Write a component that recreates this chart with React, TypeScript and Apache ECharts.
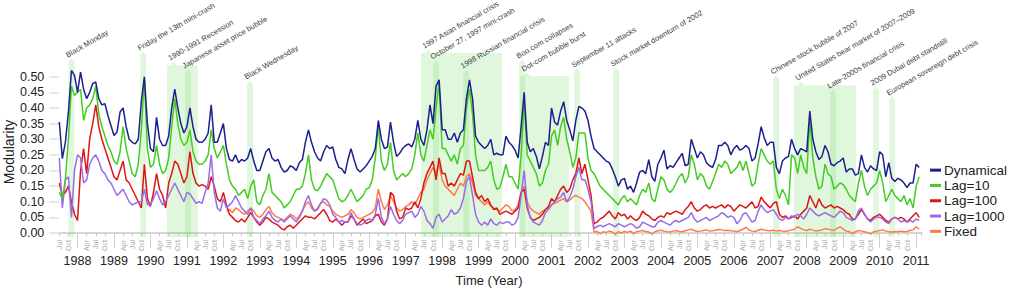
import React, { useEffect, useRef } from 'react';
import * as echarts from 'echarts';

// Monthly samples, first value = July 1987
const START = 1987.5;

const dynamical = [
  0.355, 0.238, 0.29, 0.387, 0.52, 0.504,
  0.45, 0.515, 0.46, 0.43, 0.45, 0.478, 0.483, 0.43, 0.41, 0.414, 0.376, 0.344,
  0.312, 0.323, 0.387, 0.40, 0.34, 0.30, 0.29, 0.285, 0.30, 0.42, 0.50, 0.35,
  0.27, 0.26, 0.37, 0.30, 0.28, 0.28, 0.31, 0.40, 0.46, 0.40, 0.35, 0.32,
  0.34, 0.40, 0.34, 0.30, 0.29, 0.29, 0.30, 0.32, 0.41, 0.29, 0.29, 0.32,
  0.35, 0.27, 0.235, 0.23, 0.25, 0.225, 0.235, 0.23, 0.24, 0.27, 0.23, 0.20,
  0.20, 0.23, 0.26, 0.27, 0.24, 0.23, 0.235, 0.21, 0.195, 0.20, 0.215, 0.21,
  0.20, 0.225, 0.235, 0.29, 0.33, 0.29, 0.26, 0.24, 0.23, 0.26, 0.28, 0.27,
  0.275, 0.235, 0.21, 0.205, 0.19, 0.235, 0.27, 0.235, 0.205, 0.195, 0.205, 0.215,
  0.23, 0.245, 0.27, 0.36, 0.30, 0.27, 0.275, 0.355, 0.29, 0.245, 0.255, 0.27,
  0.28, 0.285, 0.275, 0.30, 0.36, 0.30, 0.28, 0.33, 0.41, 0.35, 0.47, 0.49,
  0.33, 0.33, 0.30, 0.30, 0.32, 0.29, 0.32, 0.33, 0.43, 0.49, 0.43, 0.31,
  0.29, 0.28, 0.27, 0.28, 0.30, 0.25, 0.255, 0.25, 0.25, 0.31, 0.29, 0.28,
  0.265, 0.24, 0.34, 0.45, 0.29, 0.26, 0.27, 0.245, 0.205, 0.245, 0.29, 0.28,
  0.40, 0.355, 0.345, 0.39, 0.42, 0.36, 0.33, 0.295, 0.36, 0.405, 0.40, 0.39,
  0.36, 0.31, 0.27, 0.26, 0.25, 0.24, 0.23, 0.225, 0.205, 0.18, 0.15, 0.17,
  0.175, 0.14, 0.15, 0.13, 0.16, 0.195, 0.20, 0.19, 0.235, 0.18, 0.165, 0.22,
  0.24, 0.265, 0.205, 0.215, 0.21, 0.225, 0.24, 0.255, 0.215, 0.22, 0.30, 0.27,
  0.24, 0.26, 0.25, 0.225, 0.215, 0.21, 0.235, 0.28, 0.28, 0.29, 0.28, 0.25,
  0.27, 0.28, 0.265, 0.27, 0.28, 0.27, 0.23, 0.24, 0.285, 0.34, 0.305, 0.28,
  0.29, 0.29, 0.21, 0.19, 0.23, 0.24, 0.245, 0.30, 0.27, 0.25, 0.27, 0.265,
  0.26, 0.39, 0.30, 0.26, 0.235, 0.245, 0.28, 0.26, 0.22, 0.215, 0.225, 0.23,
  0.24, 0.195, 0.205, 0.205, 0.185, 0.19, 0.25, 0.21, 0.195, 0.215, 0.205, 0.20,
  0.26, 0.25, 0.18, 0.225, 0.175, 0.165, 0.175, 0.17, 0.16, 0.145, 0.16, 0.16,
  0.22, 0.21,
];

const lag10 = [
  0.13, 0.11, 0.17, 0.30, 0.47, 0.44,
  0.45, 0.46, 0.36, 0.40, 0.41, 0.43, 0.47, 0.38, 0.34, 0.31, 0.28, 0.26,
  0.23, 0.22, 0.26, 0.34, 0.27, 0.23, 0.19, 0.18, 0.22, 0.33, 0.49, 0.27,
  0.21, 0.22, 0.28, 0.22, 0.19, 0.20, 0.24, 0.34, 0.43, 0.35, 0.30, 0.28,
  0.29, 0.33, 0.26, 0.23, 0.22, 0.22, 0.23, 0.25, 0.33, 0.27, 0.24, 0.26,
  0.28, 0.22, 0.17, 0.15, 0.14, 0.12, 0.13, 0.14, 0.11, 0.15, 0.17, 0.10,
  0.09, 0.12, 0.14, 0.19, 0.13, 0.12, 0.11, 0.10, 0.08, 0.09, 0.10, 0.12,
  0.14, 0.14, 0.15, 0.19, 0.25, 0.17, 0.14, 0.135, 0.15, 0.17, 0.19, 0.18,
  0.17, 0.14, 0.11, 0.10, 0.105, 0.12, 0.14, 0.12, 0.10, 0.11, 0.12, 0.14,
  0.145, 0.17, 0.24, 0.34, 0.23, 0.20, 0.22, 0.29, 0.20, 0.17, 0.18, 0.19,
  0.18, 0.19, 0.205, 0.25, 0.32, 0.25, 0.23, 0.28, 0.33, 0.30, 0.40, 0.48,
  0.27, 0.27, 0.25, 0.23, 0.25, 0.22, 0.27, 0.28, 0.40, 0.46, 0.38, 0.25,
  0.20, 0.20, 0.20, 0.21, 0.23, 0.17, 0.14, 0.145, 0.18, 0.22, 0.18, 0.18,
  0.16, 0.14, 0.25, 0.42, 0.25, 0.23, 0.21, 0.19, 0.15, 0.16, 0.20, 0.22,
  0.31, 0.33, 0.28, 0.34, 0.37, 0.30, 0.26, 0.21, 0.24, 0.32, 0.32, 0.32,
  0.24, 0.20, 0.19, 0.17, 0.15, 0.14, 0.13, 0.12, 0.11, 0.10, 0.09, 0.11,
  0.12, 0.10, 0.11, 0.10, 0.09, 0.12, 0.14, 0.13, 0.16, 0.11, 0.10, 0.14,
  0.18, 0.17, 0.14, 0.13, 0.14, 0.16, 0.18, 0.19, 0.16, 0.18, 0.25, 0.22,
  0.17, 0.19, 0.18, 0.15, 0.14, 0.165, 0.19, 0.22, 0.21, 0.23, 0.22, 0.19,
  0.20, 0.21, 0.23, 0.20, 0.23, 0.19, 0.15, 0.16, 0.22, 0.27, 0.25, 0.23,
  0.22, 0.23, 0.14, 0.11, 0.14, 0.12, 0.09, 0.25, 0.24, 0.19, 0.25, 0.21,
  0.19, 0.36, 0.24, 0.18, 0.14, 0.15, 0.22, 0.19, 0.18, 0.14, 0.15, 0.16,
  0.155, 0.14, 0.12, 0.11, 0.10, 0.16, 0.20, 0.15, 0.12, 0.14, 0.15, 0.16,
  0.20, 0.16, 0.10, 0.12, 0.14, 0.12, 0.11, 0.10, 0.12, 0.09, 0.11, 0.08,
  0.15, 0.18,
];

const lag100 = [
  0.16, 0.12, 0.13, 0.15, 0.10, 0.06,
  0.04, 0.20, 0.27, 0.19, 0.30, 0.35, 0.41, 0.34, 0.30, 0.27, 0.24, 0.21,
  0.18, 0.17, 0.20, 0.23, 0.17, 0.16, 0.14, 0.12, 0.10, 0.08, 0.22, 0.11,
  0.085, 0.13, 0.19, 0.14, 0.12, 0.08, 0.16, 0.19, 0.23, 0.22, 0.19, 0.16,
  0.18, 0.26, 0.19, 0.16, 0.15, 0.155, 0.15, 0.14, 0.18, 0.15, 0.11, 0.10,
  0.13, 0.09, 0.06, 0.05, 0.04, 0.035, 0.045, 0.035, 0.05, 0.065, 0.05, 0.035,
  0.025, 0.035, 0.05, 0.045, 0.035, 0.03, 0.025, 0.015, 0.01, 0.02, 0.025, 0.015,
  0.025, 0.035, 0.045, 0.055, 0.05, 0.05, 0.045, 0.055, 0.065, 0.075, 0.06, 0.04,
  0.035, 0.045, 0.035, 0.025, 0.035, 0.035, 0.055, 0.045, 0.025, 0.035, 0.045, 0.03,
  0.035, 0.04, 0.055, 0.06, 0.035, 0.025, 0.045, 0.13, 0.12, 0.07, 0.045, 0.05,
  0.08, 0.075, 0.08, 0.10, 0.08, 0.11, 0.16, 0.19, 0.21, 0.23, 0.17, 0.24,
  0.19, 0.19, 0.15, 0.16, 0.15, 0.17, 0.19, 0.185, 0.23, 0.23, 0.18, 0.13,
  0.11, 0.12, 0.10, 0.11, 0.09, 0.075, 0.08, 0.06, 0.065, 0.07, 0.065, 0.06,
  0.07, 0.08, 0.13, 0.14, 0.08, 0.05, 0.04, 0.045, 0.05, 0.06, 0.075, 0.085,
  0.11, 0.10, 0.12, 0.14, 0.15, 0.13, 0.14, 0.17, 0.19, 0.24, 0.19, 0.22,
  0.17, 0.12, 0.03, 0.035, 0.045, 0.05, 0.06, 0.07, 0.055, 0.045, 0.065, 0.055,
  0.06, 0.045, 0.055, 0.045, 0.04, 0.05, 0.07, 0.06, 0.055, 0.045, 0.04, 0.05,
  0.055, 0.05, 0.065, 0.06, 0.065, 0.07, 0.065, 0.06, 0.075, 0.085, 0.10, 0.08,
  0.07, 0.075, 0.085, 0.09, 0.08, 0.085, 0.08, 0.085, 0.09, 0.08, 0.09, 0.085,
  0.07, 0.08, 0.09, 0.085, 0.08, 0.09, 0.10, 0.08, 0.085, 0.115, 0.10, 0.09,
  0.08, 0.095, 0.10, 0.06, 0.05, 0.055, 0.045, 0.05, 0.055, 0.045, 0.06, 0.07,
  0.08, 0.12, 0.10, 0.08, 0.11, 0.09, 0.08, 0.085, 0.09, 0.08, 0.085, 0.08,
  0.075, 0.065, 0.06, 0.045, 0.045, 0.06, 0.075, 0.06, 0.045, 0.04, 0.05, 0.055,
  0.06, 0.05, 0.04, 0.035, 0.045, 0.05, 0.045, 0.05, 0.045, 0.035, 0.045, 0.055,
  0.065, 0.05,
];

const lag1000 = [
  0.24, 0.08, 0.17, 0.18, 0.05, 0.20,
  0.25, 0.24, 0.16, 0.17, 0.22, 0.24, 0.25, 0.23, 0.20, 0.19, 0.17, 0.16,
  0.14, 0.12, 0.13, 0.14, 0.12, 0.10, 0.09, 0.095, 0.10, 0.10, 0.14, 0.09,
  0.09, 0.11, 0.135, 0.11, 0.09, 0.10, 0.12, 0.14, 0.16, 0.14, 0.12, 0.10,
  0.13, 0.125, 0.11, 0.095, 0.10, 0.095, 0.13, 0.16, 0.25, 0.13, 0.08, 0.07,
  0.11, 0.08, 0.09, 0.10, 0.12, 0.10, 0.08, 0.07, 0.06, 0.08, 0.05, 0.04,
  0.03, 0.045, 0.055, 0.07, 0.05, 0.04, 0.035, 0.045, 0.035, 0.045, 0.055, 0.045,
  0.035, 0.05, 0.07, 0.10, 0.12, 0.09, 0.07, 0.075, 0.095, 0.11, 0.105, 0.09,
  0.06, 0.05, 0.035, 0.04, 0.035, 0.035, 0.065, 0.045, 0.03, 0.025, 0.03, 0.04,
  0.045, 0.04, 0.06, 0.11, 0.05, 0.03, 0.045, 0.085, 0.06, 0.04, 0.03, 0.04,
  0.06, 0.065, 0.07, 0.05, 0.06, 0.085, 0.07, 0.04, 0.03, 0.015, 0.05, 0.06,
  0.035, 0.045, 0.055, 0.075, 0.06, 0.065, 0.08, 0.11, 0.165, 0.18, 0.12, 0.06,
  0.035, 0.025, 0.035, 0.025, 0.045, 0.03, 0.025, 0.035, 0.03, 0.035, 0.035, 0.025,
  0.03, 0.05, 0.12, 0.20, 0.09, 0.05, 0.035, 0.03, 0.025, 0.04, 0.065, 0.075,
  0.09, 0.10, 0.11, 0.115, 0.13, 0.10, 0.115, 0.14, 0.18, 0.21, 0.17, 0.17,
  0.14, 0.10, 0.015, 0.02, 0.025, 0.02, 0.025, 0.03, 0.025, 0.02, 0.03, 0.025,
  0.02, 0.025, 0.03, 0.025, 0.015, 0.02, 0.035, 0.03, 0.025, 0.02, 0.02, 0.035,
  0.04, 0.035, 0.03, 0.025, 0.035, 0.04, 0.035, 0.04, 0.045, 0.05, 0.065, 0.045,
  0.035, 0.04, 0.045, 0.05, 0.04, 0.045, 0.05, 0.055, 0.065, 0.06, 0.05, 0.055,
  0.05, 0.03, 0.04, 0.06, 0.065, 0.05, 0.035, 0.04, 0.07, 0.09, 0.075, 0.065,
  0.07, 0.075, 0.06, 0.045, 0.04, 0.05, 0.045, 0.055, 0.05, 0.06, 0.055, 0.045,
  0.06, 0.08, 0.07, 0.06, 0.055, 0.06, 0.065, 0.06, 0.055, 0.05, 0.06, 0.07,
  0.065, 0.05, 0.045, 0.04, 0.045, 0.07, 0.08, 0.06, 0.045, 0.035, 0.045, 0.05,
  0.05, 0.045, 0.035, 0.03, 0.045, 0.05, 0.045, 0.035, 0.04, 0.035, 0.04, 0.035,
  0.045, 0.04,
];

// Fixed partition series starts in February 1992 (month index 55)
const fixedFirstMonth = 55;
const fixed = [
  0.07, 0.075, 0.065, 0.08, 0.075, 0.065, 0.06, 0.07, 0.08, 0.07, 0.055,
  0.05, 0.06, 0.075, 0.085, 0.065, 0.055, 0.05, 0.045, 0.04, 0.05, 0.06, 0.055,
  0.045, 0.055, 0.07, 0.09, 0.10, 0.08, 0.07, 0.08, 0.095, 0.10, 0.09, 0.085,
  0.07, 0.06, 0.055, 0.05, 0.055, 0.06, 0.075, 0.065, 0.05, 0.045, 0.05, 0.055,
  0.06, 0.065, 0.08, 0.14, 0.10, 0.075, 0.09, 0.12, 0.10, 0.08, 0.07, 0.075,
  0.085, 0.09, 0.10, 0.09, 0.11, 0.13, 0.14, 0.17, 0.19, 0.21, 0.19, 0.22,
  0.17, 0.15, 0.14, 0.13, 0.12, 0.14, 0.16, 0.15, 0.18, 0.19, 0.16, 0.12,
  0.11, 0.10, 0.09, 0.10, 0.085, 0.08, 0.075, 0.07, 0.08, 0.09, 0.085, 0.07,
  0.075, 0.09, 0.13, 0.15, 0.10, 0.08, 0.07, 0.065, 0.06, 0.07, 0.075, 0.08,
  0.09, 0.095, 0.10, 0.105, 0.11, 0.10, 0.105, 0.115, 0.12, 0.115, 0.11, 0.10,
  0.085, 0.07, 0.003, 0.005, -0.003, 0.004, 0.002, 0.006, 0.003, -0.004, 0.004, 0.0,
  0.005, 0.002, 0.006, -0.002, 0.004, 0.006, 0.008, 0.005, 0.003, -0.003, 0.004, 0.007,
  0.009, 0.006, 0.004, 0.003, 0.006, 0.008, 0.005, 0.004, 0.007, 0.01, 0.012, 0.008,
  0.005, 0.006, 0.008, 0.01, 0.006, 0.007, 0.009, 0.011, 0.01, 0.008, 0.009, 0.007,
  0.006, 0.004, 0.008, 0.012, 0.018, 0.01, 0.006, 0.005, 0.009, 0.012, 0.01, 0.008,
  0.007, 0.009, 0.006, 0.008, 0.006, 0.005, 0.007, 0.01, 0.012, 0.02, 0.015, 0.01,
  0.008, 0.012, 0.01, 0.006, 0.008, 0.01, 0.014, 0.012, 0.01, 0.008, 0.015, 0.02,
  0.012, 0.006, 0.004, -0.002, 0.004, 0.008, 0.006, 0.004, 0.002, -0.003, 0.004, 0.006,
  0.008, 0.01, 0.006, 0.004, 0.003, 0.005, 0.004, 0.006, 0.004, 0.005, 0.008, 0.01,
  0.02, 0.012,
];

const seriesNames = ['Dynamical', 'Lag=10', 'Lag=100', 'Lag=1000', 'Fixed'];
const seriesColors = ['#1b1f8f', '#44cc22', '#dd1515', '#9a6be8', '#ff7a4a'];

const yearTicks = [
  1988, 1989, 1990, 1991, 1992, 1993, 1994, 1995, 1996, 1997, 1998, 1999,
  2000, 2001, 2002, 2003, 2004, 2005, 2006, 2007, 2008, 2009, 2010, 2011,
];
const quarterNames = ['', 'Apr', 'Jul', 'Oct'];

const eventLabels = [
  'Black Monday',
  'Friday the 13th mini-crash',
  '1990-1991 Recession',
  'Japanese asset price bubble',
  'Black Wednesday',
  '1997 Asian financial crisis',
  'October 27, 1997 mini-crash',
  '1998 Russian financial crisis',
  'Boo.com collapses',
  'Dot-com bubble burst',
  'September 11 attacks',
  'Stock market downturn of 2002',
  'Chinese stock bubble of 2007',
  'United States bear market of 2007–2009',
  'Late-2000s financial crisis',
  '2009 Dubai debt standstill',
  'European sovereign debt crisis',
];
const eventStart = [
  1987.75, 1989.72, 1990.45, 1990.95, 1992.65, 1997.42, 1997.75, 1998.58, 2000.11,
  2000.14, 2001.62, 2002.69, 2007.08, 2007.65, 2008.64, 2009.82, 2010.26,
];
const eventEnd = [
  1987.75, 1989.72, 1991.3, 1990.95, 1992.65, 1999.64, 1997.75, 1998.58, 2000.11,
  2001.48, 2001.62, 2002.69, 2007.08, 2009.35, 2008.64, 2009.82, 2010.26,
];
const eventTop = [
  0.547, 0.569, 0.537, 0.512, 0.477, 0.576, 0.541, 0.512, 0.544,
  0.502, 0.515, 0.518, 0.493, 0.473, 0.448, 0.457, 0.425,
];

const FONT = "'Liberation Sans', Arial, Helvetica, sans-serif";

const toPoints = (vals: number[], first = 0) =>
  vals.map((v, i) => [START + (first + i) / 12, v]);

function buildOption() {
  const X_MIN = 1987.5;
  const X_MAX = 2011.15;
  const FLAG_W = 6;
  const TIP_H = 4;

  const lineData = [
    toPoints(dynamical),
    toPoints(lag10),
    toPoints(lag100),
    toPoints(lag1000),
    toPoints(fixed, fixedFirstMonth),
  ];

  const drawOrder = [4, 2, 3, 1, 0];
  const lineSeries = drawOrder.map((k) => ({
    name: seriesNames[k],
    type: 'line',
    xAxisIndex: 0,
    yAxisIndex: 0,
    data: lineData[k],
    showSymbol: false,
    symbol: 'none',
    clip: false,
    lineStyle: { color: seriesColors[k], width: 1.5 },
    itemStyle: { color: seriesColors[k] },
    z: 3,
  }));

  const eventData = eventStart.map((s, i) => [s, eventEnd[i], eventTop[i]]);

  const bandSeries = {
    type: 'custom',
    xAxisIndex: 0,
    yAxisIndex: 0,
    clip: false,
    silent: true,
    z: 1,
    data: eventData,
    encode: { x: [0, 1], y: 2 },
    renderItem: (params: any, api: any) => {
      const s = api.value(0);
      const e = api.value(1);
      const top = api.value(2);
      const base = api.coord([s, 0]);
      const xs = base[0];
      const yb = base[1] + 4;
      const yt = api.coord([s, top])[1];
      const xEnd = api.coord([e, 0])[0];
      const wide = xEnd - xs > 20;
      const fx = wide ? xs + 4 : xs;
      const xe = Math.max(xEnd, xs + FLAG_W);
      const tipX = fx + FLAG_W / 2;
      const tipY = yt - TIP_H;
      const points = [
        [xs, yb],
        [xs, yt],
        [fx, yt],
        [tipX, tipY],
        [fx + FLAG_W, yt],
        [xe, yt],
        [xe, yb],
      ];
      return {
        type: 'group',
        children: [
          {
            type: 'polygon',
            shape: { points },
            style: { fill: 'rgba(120,220,100,0.22)' },
          },
          {
            type: 'text',
            x: tipX - 3,
            y: tipY + 1,
            rotation: Math.PI / 6,
            style: {
              text: eventLabels[params.dataIndex],
              fontSize: 7.6,
              fontFamily: FONT,
              fill: '#3a3a3a',
              align: 'left',
              verticalAlign: 'bottom',
              textAlign: 'left',
              textVerticalAlign: 'bottom',
            },
          },
        ],
      };
    },
  };

  const gridLayout = { left: 59.3, right: 1009 - 921.6, top: 76.7, bottom: 289 - 233 };

  return {
    animation: false,
    backgroundColor: '#ffffff',
    textStyle: { fontFamily: FONT },
    grid: [
      { ...gridLayout, containLabel: false },
      { ...gridLayout, containLabel: false },
    ],
    legend: {
      data: seriesNames,
      orient: 'vertical',
      left: 925,
      top: 158,
      icon: 'rect',
      itemWidth: 11,
      itemHeight: 3,
      itemGap: 1,
      selectedMode: false,
      textStyle: {
        fontSize: 13.5,
        color: '#222',
        fontFamily: FONT,
        lineHeight: 14.3,
        padding: [0, 0, 0, -2],
      },
    },
    xAxis: [
      {
        type: 'value',
        gridIndex: 0,
        min: X_MIN,
        max: X_MAX,
        interval: 0.25,
        offset: 4,
        axisLine: { show: true, lineStyle: { color: '#c8c8c8', width: 1.5 } },
        axisTick: { show: true, length: 3, lineStyle: { color: '#c8c8c8' } },
        axisLabel: {
          rotate: 90,
          fontSize: 7,
          color: '#a8a8a8',
          margin: 3,
          fontFamily: FONT,
          formatter: (v: number) => {
            const frac = (v - Math.floor(v + 1e-6)) * 4;
            const q = Math.round(frac);
            if (Math.abs(frac - q) > 0.01) return '';
            return quarterNames[q] || '';
          },
        },
        splitLine: { show: false },
      },
      {
        type: 'value',
        gridIndex: 1,
        min: X_MIN,
        max: X_MAX,
        offset: 4,
        axisLine: { show: false },
        axisTick: {
          show: true,
          length: 15,
          customValues: yearTicks,
          lineStyle: { color: '#d0d0d0' },
        },
        axisLabel: {
          customValues: yearTicks,
          margin: 17,
          fontSize: 12.5,
          color: '#222',
          fontFamily: FONT,
          formatter: (v: number) => String(Math.round(v)),
        },
        splitLine: { show: false },
      },
    ],
    yAxis: [
      {
        type: 'value',
        gridIndex: 0,
        min: 0,
        max: 0.5,
        interval: 0.05,
        axisLine: { show: false },
        axisTick: { show: true, length: 10, lineStyle: { color: '#dbe2e6', width: 1.5 } },
        axisLabel: {
          fontSize: 12.5,
          color: '#222',
          margin: 15,
          fontFamily: FONT,
          formatter: (v: number) => v.toFixed(2),
        },
        splitLine: { show: false },
      },
      {
        type: 'value',
        gridIndex: 1,
        min: 0,
        max: 0.5,
        show: false,
      },
    ],
    graphic: [
      {
        type: 'text',
        x: 9,
        y: 152,
        rotation: Math.PI / 2,
        style: {
          text: 'Modularity',
          fontSize: 14,
          fontFamily: FONT,
          fill: '#222',
          align: 'center',
          verticalAlign: 'middle',
          textAlign: 'center',
          textVerticalAlign: 'middle',
        },
      },
      {
        type: 'text',
        x: 489,
        y: 280,
        style: {
          text: 'Time (Year)',
          fontSize: 13,
          fontFamily: FONT,
          fill: '#222',
          align: 'center',
          verticalAlign: 'middle',
          textAlign: 'center',
          textVerticalAlign: 'middle',
        },
      },
    ],
    series: [bandSeries, ...lineSeries],
  };
}

export default function App() {
  const ref = useRef<HTMLDivElement>(null);
  useEffect(() => {
    if (!ref.current) return;
    const chart = echarts.init(ref.current, null, { renderer: 'svg' });
    chart.setOption(buildOption() as any);
    return () => chart.dispose();
  }, []);
  return (
    <div
      ref={ref}
      style={{ position: 'fixed', left: 0, top: 0, width: 1009, height: 289 }}
    />
  );
}
